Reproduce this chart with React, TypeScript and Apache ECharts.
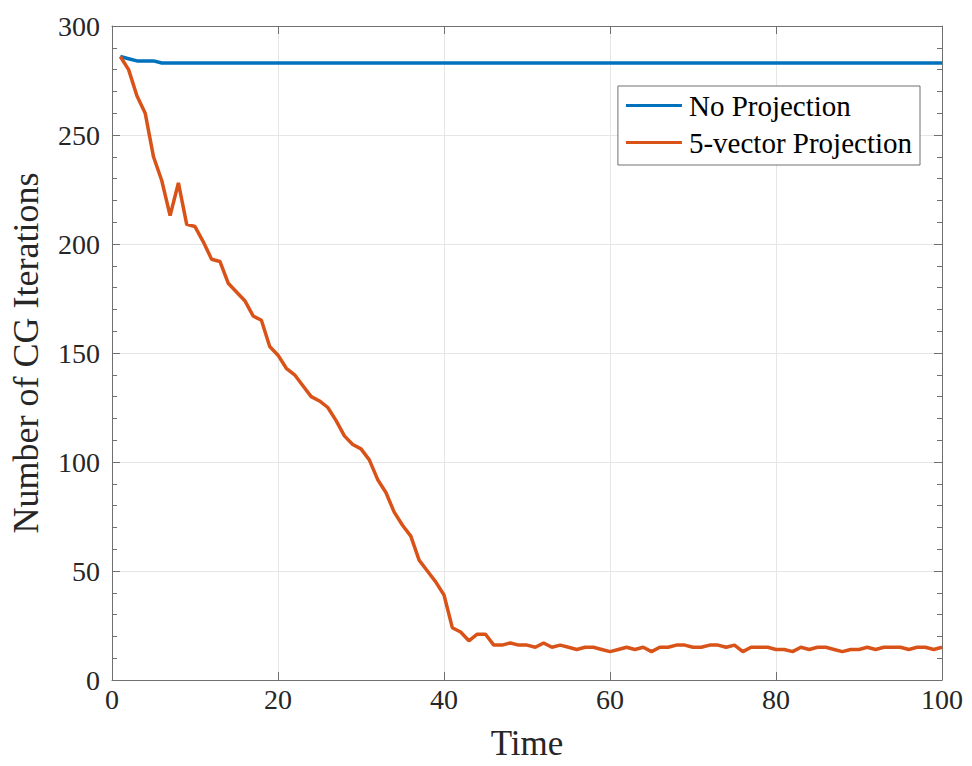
import React, { useEffect, useRef } from "react";
import * as echarts from "echarts";

const times: number[] = Array.from({ length: 100 }, (_, i) => i + 1);
const noProjection: number[] = [
  286, 285, 284, 284, 284, 283, 283, 283, 283, 283,
  283, 283, 283, 283, 283, 283, 283, 283, 283, 283,
  283, 283, 283, 283, 283, 283, 283, 283, 283, 283,
  283, 283, 283, 283, 283, 283, 283, 283, 283, 283,
  283, 283, 283, 283, 283, 283, 283, 283, 283, 283,
  283, 283, 283, 283, 283, 283, 283, 283, 283, 283,
  283, 283, 283, 283, 283, 283, 283, 283, 283, 283,
  283, 283, 283, 283, 283, 283, 283, 283, 283, 283,
  283, 283, 283, 283, 283, 283, 283, 283, 283, 283,
  283, 283, 283, 283, 283, 283, 283, 283, 283, 283,
];
const fiveVector: number[] = [
  286, 280, 268, 260, 240, 229, 213, 228, 209, 208,
  201, 193, 192, 182, 178, 174, 167, 165, 153, 149,
  143, 140, 135, 130, 128, 125, 119, 112, 108, 106,
  101, 92, 86, 77, 71, 66, 55, 50, 45, 39,
  24, 22, 18, 21, 21, 16, 16, 17, 16, 16,
  15, 17, 15, 16, 15, 14, 15, 15, 14, 13,
  14, 15, 14, 15, 13, 15, 15, 16, 16, 15,
  15, 16, 16, 15, 16, 13, 15, 15, 15, 14,
  14, 13, 15, 14, 15, 15, 14, 13, 14, 14,
  15, 14, 15, 15, 15, 14, 15, 15, 14, 15,
];
const seriesNames = ["No Projection", "5-vector Projection"];
const colors = ["#0072BD", "#D95319"];

const FONT = "'Liberation Serif', 'DejaVu Serif', serif";
const AX = "#262626";
const AXLINE = "#707070";
const GRIDC = "#e6e6e6";

export default function App() {
  const ref = useRef<HTMLDivElement>(null);
  useEffect(() => {
    if (!ref.current) return;
    const chart = echarts.init(ref.current, null, { renderer: "svg" });
    const line = { show: true, onZero: false, lineStyle: { color: AXLINE, width: 1 } };
    const tickX = { show: true, inside: true, length: 8, lineStyle: { color: AXLINE } };
    const tickY = { show: true, inside: true, length: 8, lineStyle: { color: AXLINE } };
    const minorY = { show: true, splitNumber: 5, length: 5, lineStyle: { color: AXLINE } };
    chart.setOption({
      animation: false,
      backgroundColor: "#ffffff",
      grid: { left: 112, right: 30, top: 26, bottom: 84, containLabel: false },
      legend: {
        orient: "vertical",
        right: 52,
        top: 86,
        data: seriesNames,
        icon: "rect",
        itemWidth: 56,
        itemHeight: 3,
        itemGap: 8,
        padding: [5, 8, 8, 8],
        borderColor: AXLINE,
        borderWidth: 1,
        backgroundColor: "#ffffff",
        textStyle: { fontFamily: FONT, fontSize: 29, color: "#000", padding: [0, 0, 0, 2] },
      },
      xAxis: [
        {
          type: "value",
          position: "bottom",
          min: 0,
          max: 100,
          interval: 20,
          name: "Time",
          nameLocation: "middle",
          nameGap: 46,
          nameTextStyle: { fontFamily: FONT, fontSize: 35, color: AX },
          axisLine: line,
          axisTick: tickX,
          axisLabel: { fontFamily: FONT, fontSize: 28, color: AX, margin: 5 },
          splitLine: { show: true, lineStyle: { color: GRIDC } },
        },
        {
          type: "value",
          position: "top",
          min: 0,
          max: 100,
          interval: 20,
          axisLine: line,
          axisTick: tickX,
          axisLabel: { show: false },
          splitLine: { show: false },
        },
      ],
      yAxis: [
        {
          type: "value",
          position: "left",
          min: 0,
          max: 300,
          interval: 50,
          name: "Number of CG Iterations",
          nameLocation: "middle",
          nameGap: 68,
          nameTextStyle: { fontFamily: FONT, fontSize: 36, color: AX },
          axisLine: line,
          axisTick: tickY,
          minorTick: minorY,
          axisLabel: { fontFamily: FONT, fontSize: 28, color: AX, margin: 12 },
          splitLine: { show: true, lineStyle: { color: GRIDC } },
        },
        {
          type: "value",
          position: "right",
          min: 0,
          max: 300,
          interval: 50,
          axisLine: line,
          axisTick: tickY,
          minorTick: minorY,
          axisLabel: { show: false },
          splitLine: { show: false },
        },
      ],
      series: [
        {
          name: seriesNames[0],
          type: "line",
          data: times.map((t, i) => [t, noProjection[i]]),
          showSymbol: false,
          symbol: "none",
          lineStyle: { color: colors[0], width: 3.5 },
          itemStyle: { color: colors[0] },
          z: 3,
        },
        {
          name: seriesNames[1],
          type: "line",
          data: times.map((t, i) => [t, fiveVector[i]]),
          showSymbol: false,
          symbol: "none",
          lineStyle: { color: colors[1], width: 3.5 },
          itemStyle: { color: colors[1] },
          z: 4,
        },
      ],
    });
    return () => chart.dispose();
  }, []);
  return <div ref={ref} style={{ width: 972, height: 766, position: "absolute", left: 0, top: 0 }} />;
}
